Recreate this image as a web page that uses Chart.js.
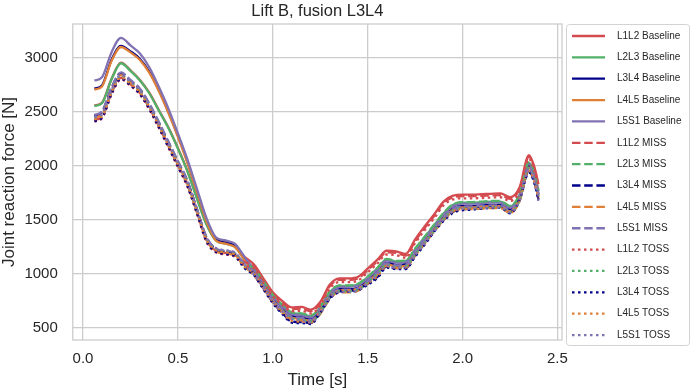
<!DOCTYPE html>
<html><head><meta charset="utf-8">
<script src="https://cdn.jsdelivr.net/npm/chart.js@4.4.1/dist/chart.umd.min.js"></script>
<style>html,body{margin:0;padding:0;background:#fff;}#wrap{width:692px;height:391px;}</style>
</head><body><div id="wrap"><canvas id="c" width="692" height="391"></canvas></div>
<script>
const time = [0.06,0.10,0.15,0.20,0.25,0.30,0.35,0.40,0.45,0.50,0.55,0.60,0.65,0.70,0.75,0.80,0.85,0.90,0.95,1.00,1.05,1.10,1.15,1.20,1.25,1.30,1.35,1.40,1.45,1.50,1.55,1.60,1.65,1.70,1.75,1.80,1.85,1.90,1.95,2.00,2.05,2.10,2.15,2.20,2.25,2.30,2.35,2.38,2.40];
const xTicks = [0, 0.5, 1.0, 1.5, 2.0, 2.5];
const yTicks = [500, 1000, 1500, 2000, 2500, 3000];
const seriesLabels = ['L1L2 Baseline','L2L3 Baseline','L3L4 Baseline','L4L5 Baseline','L5S1 Baseline','L1L2 MISS','L2L3 MISS','L3L4 MISS','L4L5 MISS','L5S1 MISS','L1L2 TOSS','L2L3 TOSS','L3L4 TOSS','L4L5 TOSS','L5S1 TOSS'];

const l1l2Base = [2560,2585,2805,2955,2885,2795,2675,2515,2355,2165,1955,1705,1465,1320,1295,1265,1160,1090,960,830,750,690,695,670,740,900,960,960,975,1050,1130,1215,1210,1185,1320,1440,1550,1670,1725,1735,1735,1738,1742,1745,1710,1800,2100,1980,1830];
const l2l3Base = [2555,2580,2800,2950,2880,2790,2670,2510,2350,2160,1950,1700,1460,1310,1280,1250,1140,1050,930,800,710,640,630,610,690,830,890,890,905,970,1050,1135,1115,1120,1230,1340,1450,1560,1640,1660,1660,1665,1670,1670,1625,1730,2030,1910,1770];
const l3l4Base = [2715,2745,2980,3110,3060,2990,2870,2700,2500,2280,2040,1770,1500,1320,1290,1260,1140,1020,900,770,680,610,600,580,660,800,860,860,875,940,1020,1105,1085,1090,1200,1310,1420,1530,1610,1630,1630,1635,1640,1640,1595,1700,2000,1880,1740];
const l4l5Base = [2705,2735,2970,3100,3050,2980,2860,2690,2490,2270,2030,1760,1490,1310,1280,1250,1130,1005,885,755,665,595,585,565,645,785,845,845,860,925,1005,1090,1070,1075,1185,1295,1405,1515,1595,1615,1615,1620,1625,1625,1580,1685,1985,1865,1725];
const l5s1Base = [2790,2820,3050,3185,3115,3040,2910,2730,2530,2300,2060,1790,1520,1340,1310,1280,1160,1040,920,790,700,630,620,600,680,820,880,880,895,960,1040,1125,1105,1110,1220,1330,1440,1550,1630,1650,1650,1655,1660,1660,1615,1720,2020,1900,1760];
const l1l2Miss = [2425,2455,2675,2815,2755,2675,2535,2365,2185,2005,1825,1575,1315,1215,1195,1175,1110,1075,945,815,735,675,680,655,725,885,945,945,960,1035,1115,1200,1195,1170,1305,1425,1535,1655,1710,1720,1720,1723,1727,1730,1695,1785,2085,1965,1815];
const l2l3Miss = [2465,2500,2720,2860,2790,2710,2570,2400,2220,2040,1860,1600,1340,1230,1210,1190,1090,1055,935,805,715,645,635,615,695,835,895,895,910,975,1055,1140,1120,1125,1235,1345,1455,1565,1645,1665,1665,1670,1675,1675,1630,1735,2035,1915,1775];
const l3l4Miss = [2460,2495,2715,2855,2785,2705,2565,2395,2215,2035,1855,1595,1335,1225,1205,1185,1085,1000,870,740,640,560,555,547,650,780,840,845,860,910,970,1068,1055,1055,1170,1280,1400,1500,1575,1600,1605,1615,1620,1622,1570,1690,1950,1840,1690];
const l4l5Miss = [2445,2480,2700,2840,2770,2690,2550,2380,2200,2020,1840,1580,1320,1210,1190,1170,1070,990,870,740,650,580,570,550,630,770,830,830,845,910,990,1075,1055,1060,1170,1280,1390,1500,1580,1600,1600,1605,1610,1610,1565,1670,1970,1850,1710];
const l5s1Miss = [2470,2505,2725,2865,2795,2715,2575,2405,2225,2045,1865,1605,1345,1235,1215,1195,1095,1015,895,765,675,605,595,575,655,795,855,855,870,935,1015,1100,1080,1085,1195,1305,1415,1525,1605,1625,1625,1630,1635,1635,1590,1695,1995,1875,1735];
const l1l2Toss = [2410,2440,2660,2800,2740,2660,2520,2350,2170,1990,1810,1560,1300,1200,1180,1160,1080,1055,925,795,715,655,660,635,705,865,925,925,940,1015,1095,1180,1175,1150,1285,1405,1515,1635,1690,1700,1700,1703,1707,1710,1675,1765,2065,1945,1795];
const l2l3Toss = [2440,2470,2690,2830,2770,2690,2550,2380,2200,2020,1840,1590,1330,1230,1210,1190,1080,1000,880,750,660,590,580,560,640,780,840,840,855,920,1000,1085,1065,1070,1180,1290,1400,1510,1590,1610,1610,1615,1620,1620,1575,1680,1980,1860,1720];
const l3l4Toss = [2415,2445,2665,2805,2745,2665,2525,2355,2175,1995,1815,1565,1305,1205,1185,1165,1055,990,860,730,630,550,545,537,640,770,830,835,850,900,960,1058,1045,1045,1160,1270,1390,1490,1565,1590,1595,1605,1610,1612,1560,1680,1940,1830,1680];
const l4l5Toss = [2430,2460,2680,2820,2760,2680,2540,2370,2190,2010,1830,1580,1320,1220,1200,1180,1070,1005,875,745,645,565,560,552,655,785,845,850,865,915,975,1073,1060,1060,1175,1285,1405,1505,1580,1605,1610,1620,1625,1627,1575,1695,1955,1845,1695];
const l5s1Toss = [2450,2480,2700,2840,2780,2700,2560,2390,2210,2030,1850,1600,1340,1240,1220,1200,1090,995,875,745,655,585,575,555,635,775,835,835,850,915,995,1080,1060,1065,1175,1285,1395,1505,1585,1605,1605,1610,1615,1615,1570,1675,1975,1855,1715];

const seriesValues = [l1l2Base,l2l3Base,l3l4Base,l4l5Base,l5s1Base,l1l2Miss,l2l3Miss,l3l4Miss,l4l5Miss,l5s1Miss,l1l2Toss,l2l3Toss,l3l4Toss,l4l5Toss,l5s1Toss];
const levelColors = ['#d44b4f', '#52b068', '#00008b', '#e07f36', '#8172b3'];
const styleDashes = [[], [8.5, 3.7], [2.5, 3.5]];

const FONT = '"Liberation Sans", Arial, Helvetica, sans-serif';
Chart.defaults.font.family = FONT;
Chart.defaults.color = '#262626';

const datasets = seriesValues.map((vals, i) => ({
  label: seriesLabels[i],
  data: time.map((t, k) => ({x: t, y: vals[k]})),
  borderColor: levelColors[i % 5],
  backgroundColor: levelColors[i % 5],
  borderDash: styleDashes[Math.floor(i / 5)],
  borderWidth: 2.3,
  borderCapStyle: 'butt',
  pointRadius: 0,
  fill: false,
  cubicInterpolationMode: 'monotone',
  order: 15 - i
}));

const framePlugin = {
  id: 'frame',
  beforeDatasetsDraw(chart) {
    const {ctx, chartArea: a} = chart;
    ctx.save();
    ctx.strokeStyle = '#cccccc';
    ctx.lineWidth = 1.3;
    ctx.strokeRect(a.left, a.top, a.right - a.left, a.bottom - a.top);
    ctx.restore();
  },
  afterDraw(chart) {
    const {ctx, chartArea: a} = chart;
    const x0 = a.right + 4.5, y0 = a.top + 0.5, x1 = 689.5, y1 = a.bottom + 5.5;
    ctx.save();
    ctx.beginPath();
    ctx.roundRect(x0, y0, x1 - x0, y1 - y0, 3);
    ctx.fillStyle = '#ffffff';
    ctx.fill();
    ctx.strokeStyle = '#d3d3d3';
    ctx.lineWidth = 1;
    ctx.stroke();
    chart.data.datasets.forEach((ds, i) => {
      const cy = y0 + 11.5 + i * 21.36;
      ctx.beginPath();
      ctx.setLineDash(ds.borderDash || []);
      ctx.strokeStyle = ds.borderColor;
      ctx.lineWidth = ds.borderWidth;
      ctx.lineCap = 'butt';
      ctx.moveTo(x0 + 5.5, cy);
      ctx.lineTo(x0 + 38.5, cy);
      ctx.stroke();
      ctx.setLineDash([]);
      ctx.fillStyle = '#262626';
      ctx.font = '10px ' + FONT;
      ctx.textBaseline = 'middle';
      ctx.textAlign = 'left';
      ctx.fillText(ds.label, x0 + 50.5, cy);
    });
    ctx.restore();
  }
};

new Chart(document.getElementById('c'), {
  type: 'line',
  data: {datasets},
  options: {
    responsive: false,
    animation: false,
    devicePixelRatio: 1,
    layout: {padding: {left: 0, right: 130, top: 0, bottom: 0}},
    plugins: {
      legend: {display: false},
      tooltip: {enabled: false},
      title: {
        display: true,
        text: 'Lift B, fusion L3L4',
        fullSize: false,
        color: '#262626',
        font: {size: 16.5, weight: 'normal'},
        padding: {top: 0, bottom: 3}
      }
    },
    scales: {
      x: {
        type: 'linear',
        min: -0.054,
        max: 2.524,
        afterBuildTicks: ax => { ax.ticks = xTicks.map(v => ({value: v})); },
        ticks: {callback: v => v.toFixed(1), font: {size: 15}, color: '#262626', padding: 10, maxRotation: 0, autoSkip: false},
        grid: {color: '#cccccc', lineWidth: 1.3, drawTicks: false},
        border: {display: false},
        title: {display: true, text: 'Time [s]', color: '#262626', font: {size: 17}, padding: {top: -8.2, bottom: 0.8}}
      },
      y: {
        type: 'linear',
        min: 389,
        max: 3313,
        afterBuildTicks: ax => { ax.ticks = yTicks.map(v => ({value: v})); },
        ticks: {callback: v => String(v), font: {size: 15}, color: '#262626', padding: 15, autoSkip: false},
        grid: {color: '#cccccc', lineWidth: 1.3, drawTicks: false},
        border: {display: false},
        title: {display: true, text: 'Joint reaction force [N]', color: '#262626', font: {size: 17}, padding: {top: -1, bottom: -10}}
      }
    }
  },
  plugins: [framePlugin]
});
</script>
</body></html>
